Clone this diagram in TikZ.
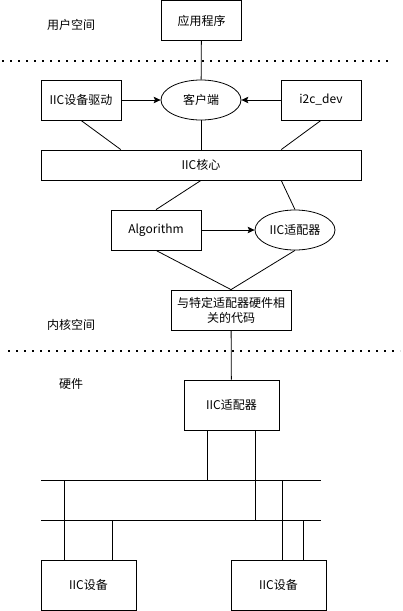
\documentclass[tikz,border=0pt]{standalone}
\usepackage{fontspec}
\setmainfont{Noto Sans CJK SC}
\usetikzlibrary{shapes.geometric,arrows.meta,calc}

\begin{document}
\begin{tikzpicture}[x=1pt,y=-1pt,line width=0.8pt,
    >={Stealth[length=7pt,width=6.5pt,inset=1.5pt]},
    font=\fontsize{12}{15}\selectfont,
    box/.style={draw,minimum width=80pt,minimum height=40pt,inner sep=0pt},
    ell/.style={draw,ellipse,minimum width=80pt,minimum height=40pt,inner sep=0pt},
    sep/.style={line width=1.6pt,dash pattern=on 1.6pt off 6.4pt}]
  \useasboundingbox (0,0) rectangle (403,611);
  % user space
  \node[box] (app) at (201.5,20.5) {应用程序};
  \node (lbuser) at (71,25) {用户空间};
  \coordinate (sepAl) at (2,61);
  \coordinate (sepAr) at (390,61);
  \draw[sep] (sepAl) -- (sepAr);
  % kernel space
  \node[box] (drv) at (81,100) {IIC设备驱动};
  \node[ell] (client) at (201,100) {客户端};
  \node[box] (i2cdev) at (321,100) {i2c\_dev};
  \node[box,minimum width=320pt,minimum height=30pt] (core) at (201,165) {IIC核心};
  \node[box,minimum width=90pt] (algo) at (156,230) {Algorithm};
  \node[ell] (adp) at (295,230) {IIC适配器};
  \node[box,minimum width=120pt,align=center] (hwcode) at (231,310)
    {与特定适配器硬件相\\关的代码};
  \node (lbkernel) at (71,325) {内核空间};
  \coordinate (sepBl) at (8,351);
  \coordinate (sepBr) at (400,351);
  \draw[sep] (sepBl) -- (sepBr);
  % hardware
  \node (lbhw) at (71,384) {硬件};
  \node[box,minimum width=95pt,minimum height=50pt] (hwadp) at (231.5,405) {IIC适配器};
  \node[box,minimum width=95pt,minimum height=50pt] (devA) at (88.5,585) {IIC设备};
  \node[box,minimum width=95pt,minimum height=50pt] (devB) at (278.5,585) {IIC设备};
  \coordinate (busAl) at (41,480);
  \coordinate (busAr) at (321,480);
  \coordinate (busBl) at (41,520);
  \coordinate (busBr) at (321,520);
  \draw (busAl) -- (busAr);
  \draw (busBl) -- (busBr);

  \draw (app) -- (client);
  \draw[->] (drv) -- (client);
  \draw[->] (i2cdev) -- (client);
  \draw (drv.south) -- ($(core.north west)!0.25!(core.north east)$);
  \draw (client) -- (core);
  \draw (i2cdev.south) -- ($(core.north west)!0.75!(core.north east)$);
  \draw (core.south) -- (algo.north);
  \draw ($(core.south west)!0.75!(core.south east)$) -- (adp.north);
  \draw[->] (algo) -- (adp);
  \draw (algo.south) -- (hwcode.north);
  \draw (adp.south) -- (hwcode.north);
  \draw (hwcode) -- (hwadp);
  % bus taps
  \path ($(hwadp.south west)!0.25!(hwadp.south east)$) coordinate (tapA)
        ($(hwadp.south west)!0.75!(hwadp.south east)$) coordinate (tapB)
        ($(devA.north west)!0.25!(devA.north east)$) coordinate (tapC)
        ($(devA.north west)!0.75!(devA.north east)$) coordinate (tapD)
        ($(devB.north west)!0.54!(devB.north east)$) coordinate (tapE)
        ($(devB.north west)!0.76!(devB.north east)$) coordinate (tapF);
  \draw (tapA) -- (tapA |- busAl);
  \draw (tapB) -- (tapB |- busBl);
  \draw (tapC) -- (tapC |- busAl);
  \draw (tapD) -- (tapD |- busBl);
  \draw (tapE) -- (tapE |- busAl);
  \draw (tapF) -- (tapF |- busBl);
\end{tikzpicture}
\end{document}
